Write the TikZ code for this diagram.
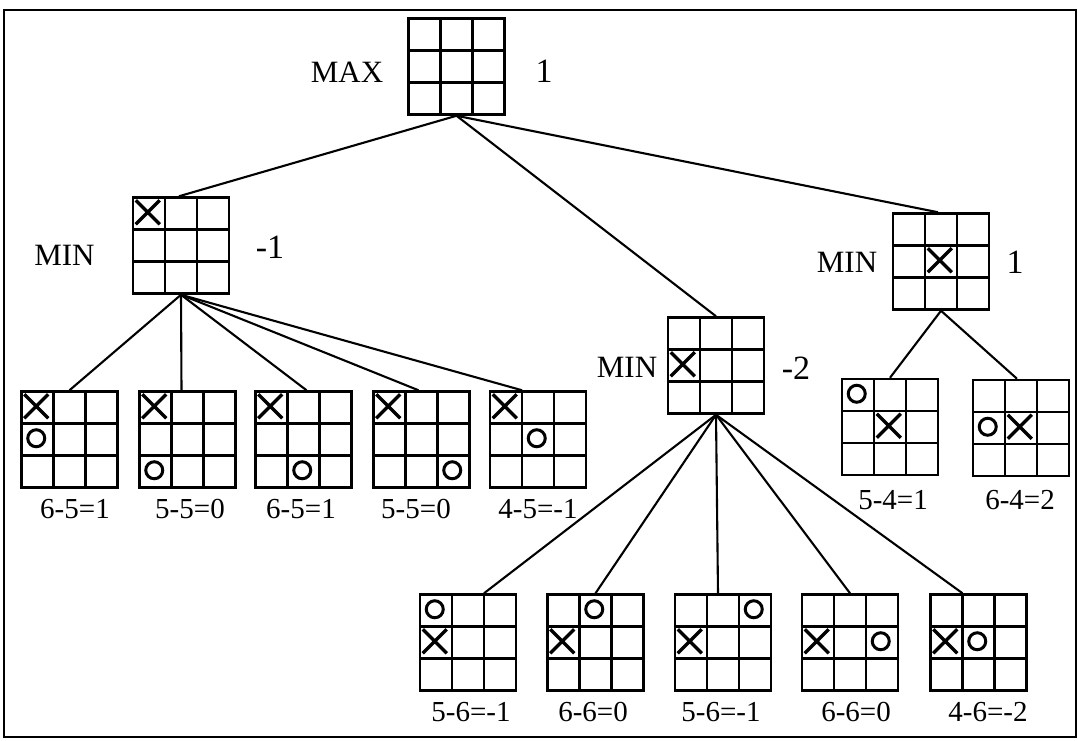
\documentclass[tikz,border=0pt]{standalone}
\usepackage{fontspec}
\setmainfont{Liberation Serif}
\usetikzlibrary{calc}
\tikzset{
  board/.style={draw, line width=2.5pt, inner sep=0pt, minimum width=96pt, minimum height=96pt,
    path picture={
      \foreach \k in {1,2}{
        \draw[line width=2.5pt] ($(path picture bounding box.north west)!\k/3!(path picture bounding box.north east)$) -- ($(path picture bounding box.south west)!\k/3!(path picture bounding box.south east)$);
        \draw[line width=2.5pt] ($(path picture bounding box.north west)!\k/3!(path picture bounding box.south west)$) -- ($(path picture bounding box.north east)!\k/3!(path picture bounding box.south east)$);
      }}},
  edge/.style={line width=2.1pt},
  xline/.style={line width=3.4pt},
  oline/.style={line width=3pt},
  lbl/.style={inner sep=0pt, font=\fontsize{29}{31}\selectfont},
  side/.style={inner sep=0pt, font=\fontsize{31}{33}\selectfont},
  val/.style={inner sep=0pt, font=\fontsize{34}{36}\selectfont}
}
\newcommand{\xm}[3]{\draw[xline] ($(#1.north west)+({#3*32+4},{#2*32+4})$) -- ++(24,24) ($(#1.north west)+({#3*32+28},{#2*32+4})$) -- ++(-24,24);}
\newcommand{\om}[3]{\draw[oline] ($(#1.north west)+({#3*32+16},{#2*32+16})$) circle[radius=8.5pt];}
\begin{document}
\begin{tikzpicture}[x=1pt,y=-1pt]
\useasboundingbox (0,0) rectangle (1078,740);
\draw[line width=2.4pt] (4,10) rectangle (1076,737);
% boards
\node[board] (root) at (456.5,66.5) {};
\node[board] (L) at (181,245.5) {};
\node[board] (M) at (716,365.5) {};
\node[board] (R) at (941,261.5) {};
\node[board] (l1) at (69.5,439.5) {};
\node[board] (l2) at (187.5,439.5) {};
\node[board] (l3) at (303.5,439.5) {};
\node[board] (l4) at (421.5,439.5) {};
\node[board] (l5) at (538,439.5) {};
\node[board] (r1) at (890,427) {};
\node[board] (r2) at (1021,428) {};
\node[board] (b1) at (468,642.5) {};
\node[board] (b2) at (595.5,642.5) {};
\node[board] (b3) at (723,642.5) {};
\node[board] (b4) at (850,642.5) {};
\node[board] (b5) at (978.5,642.5) {};
% marks
\xm{L}{0}{0}
\xm{M}{1}{0}
\xm{R}{1}{1}
\xm{l1}{0}{0}\om{l1}{1}{0}
\xm{l2}{0}{0}\om{l2}{2}{0}
\xm{l3}{0}{0}\om{l3}{2}{1}
\xm{l4}{0}{0}\om{l4}{2}{2}
\xm{l5}{0}{0}\om{l5}{1}{1}
\xm{r1}{1}{1}\om{r1}{0}{0}
\xm{r2}{1}{1}\om{r2}{1}{0}
\xm{b1}{1}{0}\om{b1}{0}{0}
\xm{b2}{1}{0}\om{b2}{0}{1}
\xm{b3}{1}{0}\om{b3}{0}{2}
\xm{b4}{1}{0}\om{b4}{1}{2}
\xm{b5}{1}{0}\om{b5}{1}{1}
% connectors
\draw[edge] (root.south) -- ([xshift=-2pt]L.north);
\draw[edge] (root.south) -- (M.north);
\draw[edge] (root.south) -- ([xshift=-3pt]R.north);
\draw[edge] (L.south) -- (l1.north);
\draw[edge] (L.south) -- ([xshift=-6pt]l2.north);
\draw[edge] (L.south) -- ([xshift=3pt]l3.north);
\draw[edge] (L.south) -- ([xshift=-3pt]l4.north);
\draw[edge] (L.south) -- ([xshift=-16pt]l5.north);
\draw[edge] (R.south) -- (r1.north);
\draw[edge] (R.south) -- ([xshift=-4pt]r2.north);
\draw[edge] (M.south) -- ([xshift=16pt]b1.north);
\draw[edge] (M.south) -- (b2.north);
\draw[edge] (M.south) -- ([xshift=-5pt]b3.north);
\draw[edge] (M.south) -- (b4.north);
\draw[edge] (M.south) -- ([xshift=-16pt]b5.north);
% side labels
\node[side] (tmax) at (347,72) {MAX};
\node[val] (vroot) at (544,71) {1};
\node[side] (tminL) at (64.5,255) {MIN};
\node[val] (vL) at (270,247) {-1};
\node[side] (tminM) at (627,367) {MIN};
\node[val] (vM) at (796,368) {-2};
\node[side] (tminR) at (847,262) {MIN};
\node[val] (vR) at (1015,262) {1};
% leaf labels
\node[lbl] (sl1) at (75,509) {6-5=1};
\node[lbl] (sl2) at (190,509) {5-5=0};
\node[lbl] (sl3) at (301,509) {6-5=1};
\node[lbl] (sl4) at (416,509) {5-5=0};
\node[lbl] (sl5) at (538,509) {4-5=-1};
\node[lbl] (sr1) at (893,500) {5-4=1};
\node[lbl] (sr2) at (1020,500) {6-4=2};
\node[lbl] (sb1) at (471,712) {5-6=-1};
\node[lbl] (sb2) at (593,712) {6-6=0};
\node[lbl] (sb3) at (721,712) {5-6=-1};
\node[lbl] (sb4) at (856,712) {6-6=0};
\node[lbl] (sb5) at (988,712) {4-6=-2};
\end{tikzpicture}
\end{document}
